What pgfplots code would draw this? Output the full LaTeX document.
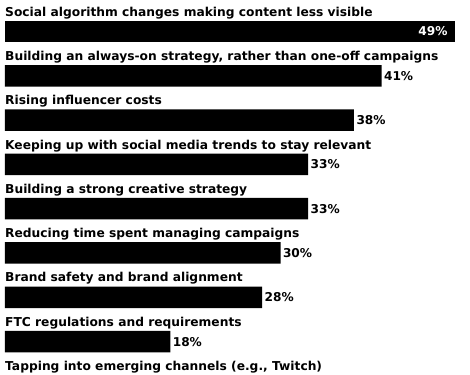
\documentclass[border=0pt]{standalone}
\usepackage{pgfplots}
\pgfplotsset{compat=1.18}
\usepackage{fontspec}
\setmainfont{DejaVu Sans}
\begin{document}
\begin{tikzpicture}[lab/.style={anchor=base west, inner sep=0pt, font=\fontsize{12.3}{15}\selectfont\bfseries, yshift=15.3bp}]
\begin{axis}[
  scale only axis, width=470bp, height=375bp,
  xmin=-0.5444, xmax=50.633,
  y dir=reverse, ymin=0.289, ymax=8.754,
  axis lines=none, ticks=none, clip=false,
  xbar, bar shift=0pt, bar width=21.5bp,
  /pgf/number format/assume math mode=true,
]
\addplot[fill=black, draw=none, nodes near coords={\pgfmathprintnumber{\pgfplotspointmeta}\%},
  point meta=x, nodes near coords style={anchor=east, white, font=\fontsize{12.2}{15}\selectfont\bfseries, xshift=-4bp}]
  coordinates {(49,1)};
\addplot[fill=black, draw=none, nodes near coords={\pgfmathprintnumber{\pgfplotspointmeta}\%},
  point meta=x, nodes near coords style={anchor=west, black, font=\fontsize{12.2}{15}\selectfont\bfseries, xshift=-1bp}]
  coordinates {(41,2) (38,3) (33,4) (33,5) (30,6) (28,7) (18,8)};
\node[lab] at (axis cs:0,1) {Social algorithm changes making content less visible};
\node[lab] at (axis cs:0,2) {Building an always-on strategy, rather than one-off campaigns};
\node[lab] at (axis cs:0,3) {Rising influencer costs};
\node[lab] at (axis cs:0,4) {Keeping up with social media trends to stay relevant};
\node[lab] at (axis cs:0,5) {Building a strong creative strategy};
\node[lab] at (axis cs:0,6) {Reducing time spent managing campaigns};
\node[lab] at (axis cs:0,7) {Brand safety and brand alignment};
\node[lab] at (axis cs:0,8) {FTC regulations and requirements};
\node[lab] at (axis cs:0,9) {Tapping into emerging channels (e.g., Twitch)};
\end{axis}
\pgfresetboundingbox
\useasboundingbox (current axis.south west) rectangle (current axis.north east);
\end{tikzpicture}
\end{document}
